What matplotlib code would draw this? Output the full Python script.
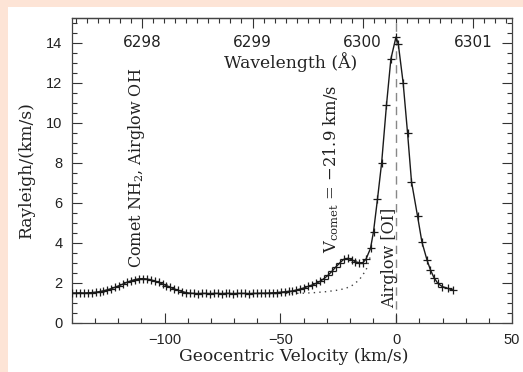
import numpy as np
import matplotlib
matplotlib.use("Agg")
import matplotlib.pyplot as plt
from matplotlib.ticker import MultipleLocator
import matplotlib.transforms as mtransforms

# ---------------- data ----------------
velocity = [-140.0, -138.3, -136.6, -134.9, -133.2, -131.5, -129.8, -128.1, -126.4, -124.7,
            -123.0, -121.3, -119.6, -117.9, -116.2, -114.5, -112.8, -111.1, -109.4, -107.7,
            -106.0, -104.3, -102.6, -100.9, -99.2, -97.5, -95.8, -94.1, -92.4, -90.7,
            -89.0, -87.3, -85.6, -83.9, -82.2, -80.5, -78.8, -77.1, -75.4, -73.7,
            -72.0, -70.3, -68.6, -66.9, -65.2, -63.5, -61.8, -60.1, -58.4, -56.7,
            -55.0, -53.3, -51.6, -49.9, -48.2, -46.5, -44.8, -43.1, -41.4, -39.7,
            -38.0, -36.3, -34.6, -32.9, -31.2, -29.5, -27.8, -26.1, -24.4, -22.7,
            -21.0, -19.3, -17.6, -15.9, -14.4, -13.1, -11.1, -9.8, -8.1, -6.3,
            -4.2, -2.3, -0.1, 0.9, 3.0, 4.9, 6.6, 9.2, 11.1, 13.3,
            14.8, 16.3, 18.0, 19.9, 22.3, 24.5]
brightness = [1.50, 1.50, 1.51, 1.50, 1.51, 1.52, 1.54, 1.57, 1.61, 1.66,
              1.72, 1.79, 1.87, 1.95, 2.04, 2.11, 2.17, 2.21, 2.22, 2.20,
              2.16, 2.10, 2.03, 1.95, 1.87, 1.78, 1.70, 1.63, 1.57, 1.52,
              1.49, 1.48, 1.47, 1.48, 1.48, 1.47, 1.48, 1.48, 1.47, 1.48,
              1.48, 1.47, 1.48, 1.48, 1.48, 1.47, 1.48, 1.48, 1.49, 1.49,
              1.50, 1.51, 1.52, 1.54, 1.56, 1.58, 1.60, 1.65, 1.70, 1.76,
              1.83, 1.90, 1.98, 2.08, 2.22, 2.38, 2.58, 2.80, 3.00, 3.18,
              3.23, 3.17, 3.06, 3.01, 3.02, 3.18, 3.73, 4.57, 6.18, 8.00,
              10.90, 13.20, 14.30, 13.95, 12.00, 9.50, 7.07, 5.35, 4.05, 3.15,
              2.65, 2.27, 1.98, 1.82, 1.73, 1.65]

# airglow [OI] wing without the comet contribution (dotted)
airglow_v = [-62, -55, -50, -45, -40, -35, -30, -26, -22, -19, -16, -13, -11]
airglow_b = [1.47, 1.47, 1.48, 1.48, 1.49, 1.52, 1.57, 1.63, 1.72, 1.88, 2.15, 2.65, 3.40]

wavelength_ticks = [6298, 6299, 6300, 6301]
rest_wavelength = 6300.304
c_kms = 299792.458

pink = '#fde4d6'
serif = 'DejaVu Serif'
sans = 'Liberation Sans'
plt.rcParams['mathtext.fontset'] = 'dejavuserif'
txt = '#222222'

fig = plt.figure(figsize=(5.23, 3.72), dpi=100, facecolor=pink)
bg = fig.add_axes([8 / 523, 0, 1 - 8 / 523, 365 / 372], zorder=-5)
bg.set_axis_off()
bg.add_patch(plt.Rectangle((0, 0), 1, 1, transform=bg.transAxes, facecolor='white',
                           edgecolor='none'))

ax = fig.add_axes([72 / 523, 1 - 323 / 372, 440 / 523, 305 / 372], zorder=1)
ax.set_facecolor('white')

ax.plot(velocity, brightness, color='#1a1a1a', lw=1.0, marker='+', ms=6, mew=0.9, zorder=3)
ax.plot(airglow_v, airglow_b, color='#444444', lw=1.0, ls=(0, (1, 3)), zorder=2)
ax.axvline(0, color='#888888', lw=1.0, ls=(0, (6, 4)), zorder=1)

ax.set_xlim(-140, 50)
ax.set_ylim(0, 15.25)
ax.xaxis.set_major_locator(MultipleLocator(50))
ax.xaxis.set_minor_locator(MultipleLocator(10))
ax.yaxis.set_major_locator(MultipleLocator(2))
ax.yaxis.set_minor_locator(MultipleLocator(0.5))
ax.tick_params(which='both', direction='in', right=True, top=False, colors='#333333',
               labelcolor=txt)
ax.tick_params(which='major', length=7, width=0.8)
ax.tick_params(which='minor', length=3.5, width=0.8)
ax.tick_params(axis='x', pad=7, labelsize=10.5)
ax.tick_params(axis='y', pad=7, labelsize=10.5)
for lab in ax.get_xticklabels() + ax.get_yticklabels():
    lab.set_fontfamily(sans)
for s in ax.spines.values():
    s.set_color('#444444')
    s.set_linewidth(0.9)

ax.set_xlabel('Geocentric Velocity (km/s)', family=serif, fontsize=12.3, color=txt)
ax.xaxis.set_label_coords(0.505, -0.083)
ax.set_ylabel('Rayleigh/(km/s)', family=serif, fontsize=12.3, color=txt)
ax.yaxis.set_label_coords(-0.083, 0.5)

def v2l(v):
    return rest_wavelength * (1 + np.asarray(v) / c_kms)

def l2v(l):
    return (np.asarray(l) / rest_wavelength - 1) * c_kms

sec = ax.secondary_xaxis('top', functions=(v2l, l2v))
sec.xaxis.set_major_locator(MultipleLocator(1))
sec.xaxis.set_minor_locator(MultipleLocator(0.1))
sec.tick_params(which='both', direction='in', labeltop=False, colors='#333333')
sec.tick_params(which='major', length=7, width=0.8)
sec.tick_params(which='minor', length=3.5, width=0.8)
sec.spines['top'].set_color('#444444')
sec.spines['top'].set_linewidth(0.9)

trans = mtransforms.blended_transform_factory(ax.transData, ax.transAxes)
for w in wavelength_ticks:
    ax.text(float(l2v(w)), 0.921, str(w), transform=trans, ha='center', va='center',
            family='DejaVu Sans', fontsize=11, color=txt)
ax.text(0.497, 0.856, 'Wavelength (Å)', transform=ax.transAxes, ha='center', va='center',
        family=serif, fontsize=12.3, color=txt)

ax.text(-112, 2.75, r'Comet NH$_2$, Airglow OH', rotation=90, ha='center', va='bottom',
        family=serif, fontsize=11.5, color=txt)
ax.text(-28, 3.5, 'V$_{\\mathrm{comet}}$ = \u221221.9 km/s', rotation=90, ha='center', va='bottom',
        family=serif, fontsize=11.8, color=txt)
ax.text(-3, 0.75, 'Airglow [OI]', rotation=90, ha='center', va='bottom',
        family=serif, fontsize=11.5, color=txt)

fig.savefig('out.png', dpi=100, facecolor=pink)
